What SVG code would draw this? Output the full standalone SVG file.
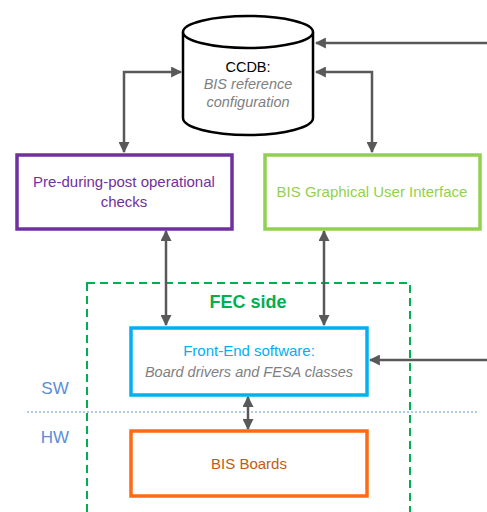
<svg xmlns="http://www.w3.org/2000/svg" width="487" height="512" viewBox="0 0 487 512">
<style>
  text { font-family: "Liberation Sans", Arial, sans-serif; text-anchor: middle; }
  .conn { stroke: #595959; stroke-width: 2.5; fill: none; }
  .box { fill: #ffffff; stroke-width: 3.5; }
  .it { font-style: italic; fill: #808080; }
</style>
<defs>
  <marker id="ah" viewBox="0 0 10 10" refX="9" refY="5" markerWidth="4.4" markerHeight="4.4" orient="auto-start-reverse" markerUnits="strokeWidth">
    <path d="M0,0 L10,5 L0,10 z" fill="#595959"/>
  </marker>
</defs>
<rect width="487" height="512" fill="#ffffff"/>

<g id="fec-side">
  <rect x="87" y="283" width="323" height="240" fill="none" stroke="#00B050" stroke-width="2" stroke-dasharray="8,5"/>
  <text x="248" y="308" font-size="18" font-weight="bold" fill="#00B050">FEC side</text>
</g>

<g id="sw-hw">
  <line x1="27" y1="412" x2="478" y2="412" stroke="#5B9BD5" stroke-width="1" stroke-dasharray="2,2"/>
  <text x="55" y="394" font-size="17" fill="#5B8ED6">SW</text>
  <text x="55" y="443" font-size="17" fill="#5B8ED6">HW</text>
</g>

<g id="connectors">
  <path class="conn" d="M487,43 L316,43" marker-end="url(#ah)"/>
  <path class="conn" d="M316,72 L372,72 L372,152" marker-start="url(#ah)" marker-end="url(#ah)"/>
  <path class="conn" d="M181,72 L124,72 L124,152" marker-start="url(#ah)" marker-end="url(#ah)"/>
  <path class="conn" d="M166,231 L166,325" marker-start="url(#ah)" marker-end="url(#ah)"/>
  <path class="conn" d="M324,231 L324,325" marker-start="url(#ah)" marker-end="url(#ah)"/>
  <path class="conn" d="M487,360 L370,360" marker-end="url(#ah)"/>
  <path class="conn" d="M248,397 L248,429" marker-start="url(#ah)" marker-end="url(#ah)"/>
</g>

<g id="ccdb">
  <path d="M183,32 L183,118 A65,17 0 0 0 313,118 L313,32" fill="#ffffff" stroke="#000000" stroke-width="2.5"/>
  <ellipse cx="248" cy="32" rx="65" ry="16" fill="#ffffff" stroke="#000000" stroke-width="2.5"/>
  <text x="248" y="72" font-size="14.5" fill="#000000">CCDB:</text>
  <text x="248" y="89" font-size="14.5" class="it">BIS reference</text>
  <text x="248" y="107" font-size="14.5" class="it">configuration</text>
</g>

<g id="checks">
  <rect class="box" x="17" y="155" width="215" height="74" stroke="#7030A0"/>
  <text x="124" y="187" font-size="15" fill="#7030A0">Pre-during-post operational</text>
  <text x="124" y="207" font-size="15" fill="#7030A0">checks</text>
</g>

<g id="gui">
  <rect class="box" x="265" y="155" width="215" height="74" stroke="#92D050"/>
  <text x="372" y="197" font-size="15" fill="#92D050">BIS Graphical User Interface</text>
</g>

<g id="fe-software">
  <rect class="box" x="131" y="328" width="236" height="67" stroke="#00B0F0"/>
  <text x="249" y="356" font-size="15" fill="#00B0F0">Front-End software:</text>
  <text x="249" y="377" font-size="14.5" class="it">Board drivers and FESA classes</text>
</g>

<g id="bis-boards">
  <rect class="box" x="131" y="431" width="236" height="65" stroke="#FF6A13"/>
  <text x="249" y="469" font-size="15" fill="#C55A11">BIS Boards</text>
</g>
</svg>
